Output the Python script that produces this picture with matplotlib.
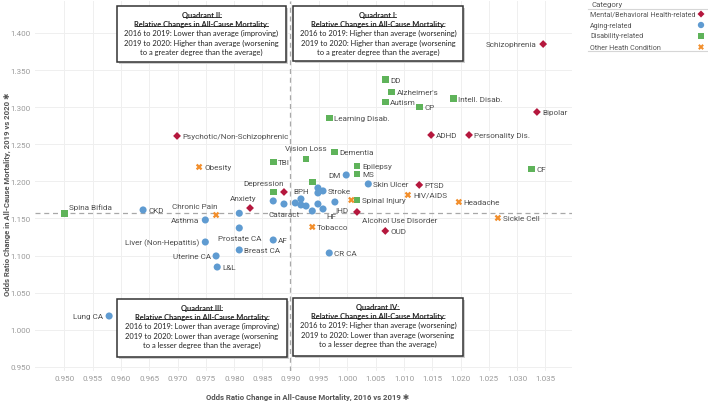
import matplotlib
matplotlib.use('Agg')
import matplotlib.pyplot as plt
from matplotlib import font_manager
from matplotlib.patches import Rectangle
from matplotlib.lines import Line2D

installed = {f.name for f in font_manager.fontManager.ttflist}
lab_font = 'Liberation Sans Narrow' if 'Liberation Sans Narrow' in installed else 'Roboto'
box_font = 'Lato'

# ---- data ----
mental_names = ['Schizophrenia', 'Bipolar', 'ADHD', 'Personality Dis.', 'Psychotic/Non-Schizophrenic',
                'PTSD', 'Depression', 'Anxiety', 'Alcohol Use Disorder', 'OUD']
mental_x = [1.0346, 1.0335, 1.0148, 1.0215, 0.9699, 1.0127, 0.9888, 0.9828, 1.0017, 1.0067]
mental_y = [1.385, 1.2935, 1.2625, 1.2625, 1.2612, 1.1952, 1.1857, 1.1641, 1.1588, 1.1332]

aging_names = ['Lung CA', 'CKD', 'Asthma', 'Liver (Non-Hepatitis)', 'Uterine CA', 'L&L', '',
               'Prostate CA', 'Breast CA', 'AF', '', 'Cataract', '', 'BPH', '', '', '', '', '',
               'Stroke', '', 'HF', 'IHD', 'DM', 'Skin Ulcer', 'CR CA']
aging_x = [0.9579, 0.9639, 0.9749, 0.9749, 0.9768, 0.9770, 0.9809, 0.9809, 0.9809, 0.9869, 0.9869,
           0.9888, 0.9908, 0.9918, 0.9918, 0.9927, 0.9938, 0.9948, 0.9948, 0.9957, 0.9948, 0.9957,
           0.9978, 0.9998, 1.0037, 0.9968]
aging_y = [1.0186, 1.1615, 1.1480, 1.1183, 1.0995, 1.0846, 1.1570, 1.1372, 1.1076, 1.1210, 1.1736,
           1.1695, 1.1709, 1.1763, 1.1682, 1.1668, 1.1601, 1.1911, 1.1844, 1.1871, 1.1695, 1.1628,
           1.1722, 1.2086, 1.1965, 1.1035]

disab_names = ['DD', "Alzheimer's", 'Autism', 'CP', 'Intell. Disab.', 'Learning Disab.', 'CF', 'TBI',
               'Vision Loss', 'Dementia', 'Epilepsy', 'MS', '', '', 'Spinal Injury', 'Spina Bifida']
disab_x = [1.0067, 1.0078, 1.0067, 1.0127, 1.0187, 0.9968, 1.0326, 0.9869, 0.9927, 0.9977, 1.0017,
           1.0017, 0.9938, 0.9869, 1.0017, 0.9500]
disab_y = [1.3367, 1.3205, 1.3070, 1.3003, 1.3111, 1.2854, 1.2167, 1.2261, 1.2302, 1.2396, 1.2208,
           1.2100, 1.1992, 1.1857, 1.1749, 1.1570]

other_names = ['Obesity', 'Chronic Pain', 'Tobacco', '', 'HIV/AIDS', 'Headache', 'Sickle Cell']
other_x = [0.9738, 0.9768, 0.9938, 1.0007, 1.0107, 1.0197, 1.0266]
other_y = [1.2194, 1.1547, 1.1386, 1.1749, 1.1817, 1.1722, 1.1507]

avg_x = 0.9898
avg_y = 1.1570

x_ticks = [round(0.950 + 0.005 * i, 3) for i in range(18)]
y_ticks = [round(0.950 + 0.05 * i, 2) for i in range(10)]

# label placement: (dx px, dy px, ha)
label_pos = {
    'Schizophrenia': (-7, 0, 'right'), 'DM': (-6, 0, 'right'),
    'Asthma': (-6, 0, 'right'), 'Liver (Non-Hepatitis)': (-6, 0, 'right'),
    'Lung CA': (-6, 0, 'right'), 'Uterine CA': (-5, 0, 'right'),
    'Depression': (-20, 9, 'center'), 'Anxiety': (-7, 10, 'center'),
    'Chronic Pain': (-21, 9, 'center'), 'Spina Bifida': (5, 7, 'left'),
    'Vision Loss': (0, 11, 'center'), 'Prostate CA': (0, -10, 'center'),
    'Cataract': (0, -10, 'center'), 'BPH': (0, 8, 'center'),
    'HF': (8, -7, 'center'), 'IHD': (7, -8, 'center'),
    'Alcohol Use Disorder': (5, -8, 'left'),
}

cats = [
    ('Mental/Behavioral Health-related', mental_names, mental_x, mental_y, 'D', '#b5173d', 16),
    ('Aging-related', aging_names, aging_x, aging_y, 'o', '#5f9bd1', 26),
    ('Disability-related', disab_names, disab_x, disab_y, 's', '#5fb35a', 24),
    ('Other Heath Condition', other_names, other_x, other_y, 'X', '#f28e2b', 22),
]

fig = plt.figure(figsize=(7.08, 4.02), dpi=100)
W, H = 708, 402
ax = fig.add_axes([35 / W, 30 / H, 537 / W, 370 / H])
ax.set_xlim(0.9448, 1.0397)
ax.set_ylim(0.9445, 1.443)

ax.set_xticks(x_ticks)
ax.set_xticklabels([f'{t:.3f}' for t in x_ticks])
ax.set_yticks(y_ticks)
ax.set_yticklabels([f'{t:.3f}' for t in y_ticks])
ax.tick_params(length=0, labelsize=5.8, labelcolor='#9a9a9a', pad=3)
for t in ax.get_xticklabels() + ax.get_yticklabels():
    t.set_fontfamily(lab_font)
ax.grid(True, color='#efefef', lw=0.7)
ax.set_axisbelow(True)
for s in ax.spines.values():
    s.set_visible(False)

ax.axvline(avg_x, color='#a8a8a8', ls=(0, (4, 3)), lw=0.9, zorder=1)
ax.axhline(avg_y, color='#a8a8a8', ls=(0, (4, 3)), lw=0.9, zorder=1)

for cat, names, xs, ys, mk, col, sz in cats:
    ax.scatter(xs, ys, marker=mk, s=sz, color=col, edgecolors='none', zorder=3)
    for n, x, y in zip(names, xs, ys):
        if not n:
            continue
        dx, dy, ha = label_pos.get(n, (5, 0, 'left'))
        ax.annotate(n, (x, y), xytext=(dx, dy), textcoords='offset pixels', ha=ha, va='center',
                    fontsize=5.9, color='#505050', family=lab_font, zorder=4)

fig.text(308 / W, 1 - 397 / H, 'Odds Ratio Change in All-Cause Mortality, 2016 vs 2019 \u2731',
         ha='center', va='center', fontsize=5.6, color='#555555', fontweight='bold',
         family=[lab_font, 'DejaVu Sans'])
fig.text(7 / W, 1 - 194 / H, 'Odds Ratio Change in All-Cause Mortality, 2019 vs 2020 \u2731',
         ha='center', va='center', rotation=90, fontsize=5.6, color='#555555', fontweight='bold',
         family=[lab_font, 'DejaVu Sans'])

# overlay in pixel coordinates for boxes and legend
ov = fig.add_axes([0, 0, 1, 1], facecolor='none')
ov.set_xlim(0, W)
ov.set_ylim(H, 0)
ov.axis('off')

boxes = [
    (117, 7, 286, 63, ['Quadrant II:', 'Relative Changes in All-Cause Mortality:',
                       '2016 to 2019: Lower than average (improving)',
                       '2019 to 2020: Higher than average (worsening',
                       'to a greater degree than the average)']),
    (293, 7, 463, 62, ['Quadrant I:', 'Relative Changes in All-Cause Mortality:',
                       '2016 to 2019: Higher than average (worsening)',
                       '2019 to 2020: Higher than average (worsening',
                       'to a greater degree than the average)']),
    (117, 300, 287, 358, ['Quadrant III:', 'Relative Changes in All-Cause Mortality:',
                          '2016 to 2019: Lower than average (improving)',
                          '2019 to 2020: Lower than average (worsening',
                          'to a lesser degree than the average)']),
    (293, 299, 463, 357, ['Quadrant IV:', 'Relative Changes in All-Cause Mortality:',
                          '2016 to 2019: Higher than average (worsening)',
                          '2019 to 2020: Lower than average (worsening',
                          'to a lesser degree than the average)']),
]
under = []
for x0, y0, x1, y1, lines in boxes:
    ov.add_patch(Rectangle((x0 + 1.5, y0 + 1.5), x1 - x0, y1 - y0, facecolor='#cfcfcf',
                           edgecolor='none', zorder=5))
    ov.add_patch(Rectangle((x0, y0), x1 - x0, y1 - y0, facecolor='white', edgecolor='#333333',
                           lw=1.1, zorder=6))
    cx = (x0 + x1) / 2
    top = y0 + 8.5
    for i, ln in enumerate(lines):
        t = ov.text(cx, top + 9.2 * i, ln, ha='center', va='center', fontsize=5.4,
                    family=box_font, color='#222222', fontweight='bold' if i < 2 else 'normal',
                    zorder=7)
        if i < 2:
            under.append(t)

# legend
ov.text(591, 5, 'Category', ha='left', va='center', fontsize=5.6, color='#555555', family=lab_font)
ov.plot([588, 708], [10, 10], color='#d6d6d6', lw=0.8)
for i, (cat, names, xs, ys, mk, col, sz) in enumerate(cats):
    yy = 15 + 11 * i
    ov.text(590, yy, cat, ha='left', va='center', fontsize=5.1, color='#555555', family=lab_font)
    ov.scatter([701], [yy], marker=mk, s=sz * 0.8, color=col, edgecolors='none')
ov.plot([588, 708], [52, 52], color='#d6d6d6', lw=0.8)

# underline box titles
fig.canvas.draw()
r = fig.canvas.get_renderer()
for t in under:
    bb = t.get_window_extent(renderer=r)
    fig.add_artist(Line2D([bb.x0 + 1, bb.x1 - 1], [bb.y0 + 1.2, bb.y0 + 1.2], color='#222222',
                          lw=0.6, transform=None, zorder=8))

fig.savefig('out.png', dpi=100)
